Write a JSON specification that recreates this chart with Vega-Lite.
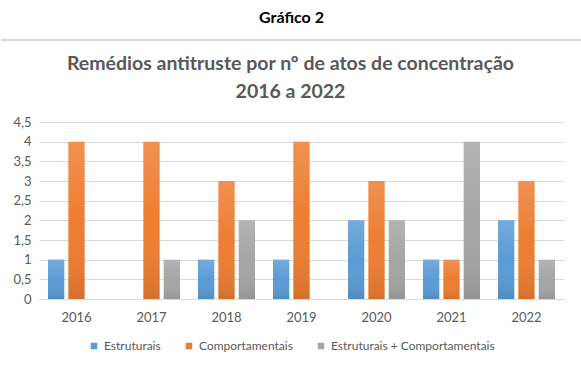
{
  "$schema": "https://vega.github.io/schema/vega-lite/v6.json",
  "padding": {"top": 9, "left": 0, "right": 0, "bottom": 0},
  "background": "white",
  "spacing": 12,
  "config": {"view": {"stroke": null}, "font": "Lato", "legend": {"layout": {"bottom": {"anchor": "middle"}}}},
  "data": {"values": [
    {"ano": "2016", "tipo": "Estruturais", "valor": 1},
    {"ano": "2016", "tipo": "Comportamentais", "valor": 4},
    {"ano": "2016", "tipo": "Estruturais + Comportamentais", "valor": 0},
    {"ano": "2017", "tipo": "Estruturais", "valor": 0},
    {"ano": "2017", "tipo": "Comportamentais", "valor": 4},
    {"ano": "2017", "tipo": "Estruturais + Comportamentais", "valor": 1},
    {"ano": "2018", "tipo": "Estruturais", "valor": 1},
    {"ano": "2018", "tipo": "Comportamentais", "valor": 3},
    {"ano": "2018", "tipo": "Estruturais + Comportamentais", "valor": 2},
    {"ano": "2019", "tipo": "Estruturais", "valor": 1},
    {"ano": "2019", "tipo": "Comportamentais", "valor": 4},
    {"ano": "2019", "tipo": "Estruturais + Comportamentais", "valor": 0},
    {"ano": "2020", "tipo": "Estruturais", "valor": 2},
    {"ano": "2020", "tipo": "Comportamentais", "valor": 3},
    {"ano": "2020", "tipo": "Estruturais + Comportamentais", "valor": 2},
    {"ano": "2021", "tipo": "Estruturais", "valor": 1},
    {"ano": "2021", "tipo": "Comportamentais", "valor": 1},
    {"ano": "2021", "tipo": "Estruturais + Comportamentais", "valor": 4},
    {"ano": "2022", "tipo": "Estruturais", "valor": 2},
    {"ano": "2022", "tipo": "Comportamentais", "valor": 3},
    {"ano": "2022", "tipo": "Estruturais + Comportamentais", "valor": 1}
  ]},
  "vconcat": [
    {
      "width": 581,
      "height": 1,
      "view": {"stroke": "#d9d9d9", "strokeWidth": 1},
      "title": {"text": "Gráfico 2", "fontSize": 16, "fontWeight": "bold", "color": "#000000", "anchor": "middle", "offset": 13},
      "mark": {"type": "rule", "opacity": 0},
      "encoding": {}
    },
    {
      "width": 581,
      "height": 177,
      "title": {
        "text": ["Remédios antitruste por nº de atos de concentração", "2016 a 2022"],
        "fontSize": 19.5, "fontWeight": "bold", "color": "#595959", "anchor": "middle",
        "lineHeight": 28, "offset": 14, "frame": "group", "dx": -1
      },
      "encoding": {
        "x": {
          "field": "ano", "type": "nominal", "title": null,
          "scale": {"paddingInner": 0.24, "paddingOuter": 0.12, "range": [38, 563]},
          "axis": {"labelAngle": 0, "labelFontSize": 13, "labelColor": "#595959", "domainColor": "#d9d9d9", "domainWidth": 1, "ticks": false, "labelPadding": 12}
        },
        "xOffset": {
          "field": "tipo", "type": "nominal",
          "scale": {"domain": ["Estruturais", "Comportamentais", "Estruturais + Comportamentais"], "paddingInner": 0.2, "paddingOuter": 0}
        },
        "y": {
          "field": "valor", "type": "quantitative", "title": null,
          "scale": {"domain": [0, 4.5], "nice": false},
          "axis": {
            "values": [0, 0.5, 1, 1.5, 2, 2.5, 3, 3.5, 4, 4.5],
            "labelExpr": "replace(toString(datum.value), '.', ',')",
            "labelFontSize": 13, "labelColor": "#595959", "domain": false, "ticks": false,
            "gridColor": "#d9d9d9", "labelPadding": -30, "labelAlign": "right"
          }
        }
      },
      "layer": [
        {
          "mark": {"type": "bar"},
          "encoding": {
            "color": {
              "field": "tipo", "type": "nominal", "title": null,
              "scale": {"domain": ["Estruturais", "Comportamentais", "Estruturais + Comportamentais"], "range": ["#5B9BD5", "#ED7D31", "#A5A5A5"]},
              "legend": {"orient": "bottom", "direction": "horizontal", "symbolType": "square", "symbolSize": 42, "symbolStrokeWidth": 0, "labelFontSize": 12, "labelColor": "#595959", "columnPadding": 22, "offset": 16, "labelLimit": 400, "labelOffset": 4}
            }
          }
        },
        {
          "mark": {
            "type": "bar",
            "color": {"gradient": "linear", "x1": 0, "y1": 0, "x2": 0, "y2": 1, "stops": [{"offset": 0, "color": "rgba(255,255,255,0.16)"}, {"offset": 0.5, "color": "rgba(255,255,255,0)"}, {"offset": 1, "color": "rgba(0,0,0,0.1)"}]}
          }
        }
      ]
    }
  ]
}
